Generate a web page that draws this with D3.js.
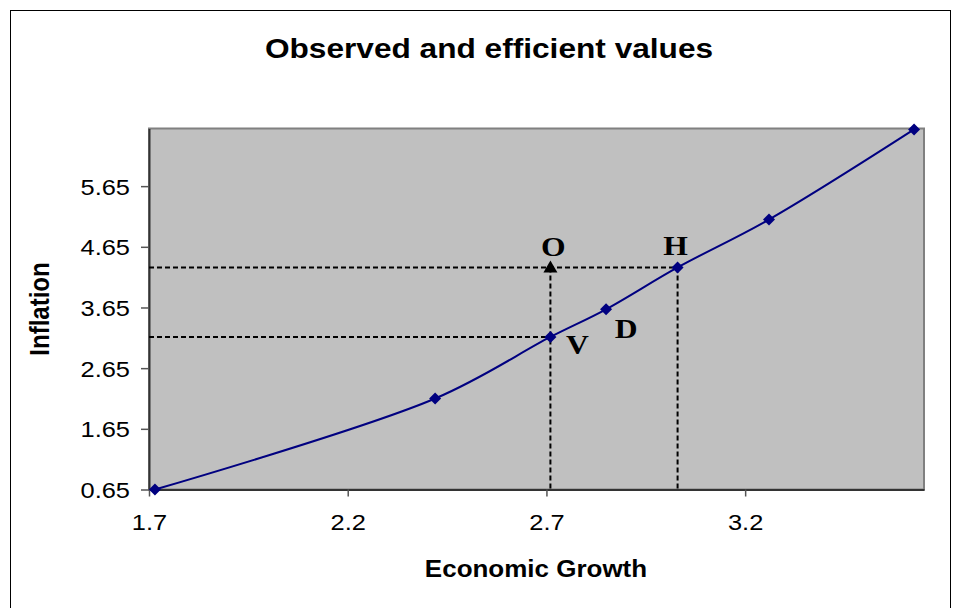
<!DOCTYPE html>
<html><head><meta charset="utf-8">
<script src="https://cdn.jsdelivr.net/npm/d3@7"></script>
<style>body{margin:0;background:#fff}svg{display:block}</style>
</head><body>
<script>
const growth = [1.715, 2.42, 2.71, 2.85, 3.03, 3.26, 3.625];
const inflation = [0.65, 2.15, 3.165, 3.62, 4.31, 5.10, 6.585];
const xTicks = [1.7, 2.2, 2.7, 3.2];
const yTicks = [0.65, 1.65, 2.65, 3.65, 4.65, 5.65];
const pointLabels = ["V", "D", "H"];
const labelIndex = [2, 3, 4];
const observed = {label: "O", growth: 2.71, inflation: 4.31};

const W = 961, H = 608, SX = 1.13;
const svg = d3.select("body").append("svg").attr("width", W).attr("height", H);
svg.append("rect").attr("x", 10.5).attr("y", 10.5).attr("width", 940).attr("height", 640)
  .attr("fill", "#fff").attr("stroke", "#000").attr("stroke-width", 1);

const L = 149, R = 924, T = 128.5, B = 489.5;
const x = d3.scaleLinear().domain([1.7, 3.65]).range([L, R]);
const y = d3.scaleLinear().domain([0.65, 6.6]).range([B, T]);

svg.append("rect").attr("x", L).attr("y", T).attr("width", R - L).attr("height", B - T)
  .attr("fill", "#c0c0c0").attr("stroke", "#808080").attr("stroke-width", 2);

const sans = "Liberation Sans, Arial, sans-serif";
const serif = "Liberation Serif, Times New Roman, serif";

// axes
const xAxis = svg.append("g").attr("transform", `translate(0,${B})`)
  .call(d3.axisBottom(x).tickValues(xTicks).tickFormat(d3.format(".1f")).tickSizeInner(7).tickSizeOuter(0).tickPadding(18));
const yAxis = svg.append("g").attr("transform", `translate(${L},0)`)
  .call(d3.axisLeft(y).tickValues(yTicks).tickFormat(d3.format(".2f")).tickSizeInner(8).tickSizeOuter(0).tickPadding(11));
[xAxis, yAxis].forEach(a => {
  a.select(".domain").attr("stroke", "#333").attr("stroke-width", 2);
  a.selectAll(".tick line").attr("stroke", "#555").attr("stroke-width", 1.5);
  a.selectAll("text").attr("font-family", sans).attr("font-size", 22.5).attr("fill", "#000");
});
xAxis.selectAll(".tick text").each(function() {
  const t = d3.select(this); const yy = +t.attr("y");
  t.attr("transform", `translate(0,${yy}) scale(${SX},1)`).attr("y", 0);
});
yAxis.selectAll(".tick text").each(function() {
  const t = d3.select(this); const xx = +t.attr("x");
  t.attr("transform", `translate(${xx},0) scale(${SX},1)`).attr("x", 0).attr("dy", "0.36em");
});

const iV = 2, iH = 4;
const dash = "5,3";
const g = svg.append("g").attr("stroke", "#000").attr("stroke-width", 2).attr("stroke-dasharray", dash);
g.append("line").attr("x1", L).attr("x2", x(growth[iH])).attr("y1", y(inflation[iH])).attr("y2", y(inflation[iH]));
g.append("line").attr("x1", L).attr("x2", x(growth[iV])).attr("y1", y(inflation[iV])).attr("y2", y(inflation[iV]));
g.append("line").attr("x1", x(observed.growth)).attr("x2", x(observed.growth)).attr("y1", y(observed.inflation)).attr("y2", B);
g.append("line").attr("x1", x(growth[iH])).attr("x2", x(growth[iH])).attr("y1", y(inflation[iH])).attr("y2", B);

const pts = growth.map((d, i) => [x(d), y(inflation[i])]);
svg.append("path").attr("d", d3.line().curve(d3.curveCatmullRom.alpha(0.5))(pts))
  .attr("fill", "none").attr("stroke", "#000080").attr("stroke-width", 2);
svg.selectAll(".mk").data(pts).enter().append("path")
  .attr("d", d3.symbol().type(d3.symbolSquare).size(72)())
  .attr("transform", d => `translate(${d[0]},${d[1]}) rotate(45)`)
  .attr("fill", "#000080");

svg.append("path").attr("d", "M0,-7 L7,5 L-7,5 Z")
  .attr("transform", `translate(${x(observed.growth)},${y(observed.inflation)})`).attr("fill", "#000");

function txt(t, px, py, size, fam, rot) {
  return svg.append("text")
    .attr("transform", `translate(${px},${py})` + (rot ? ` rotate(${rot}) scale(1,${SX})` : ` scale(${SX},1)`))
    .attr("text-anchor", "middle").attr("font-family", fam).attr("font-weight", "bold")
    .attr("font-size", size).attr("fill", "#000").text(t);
}
const lab = [
  {t: observed.label, x: x(observed.growth) + 3, y: y(observed.inflation) - 11},
  {t: pointLabels[0], x: x(growth[labelIndex[0]]) + 27, y: y(inflation[labelIndex[0]]) + 17},
  {t: pointLabels[1], x: x(growth[labelIndex[1]]) + 20, y: y(inflation[labelIndex[1]]) + 29},
  {t: pointLabels[2], x: x(growth[labelIndex[2]]) - 2, y: y(inflation[labelIndex[2]]) - 12}
];
lab.forEach(d => txt(d.t, d.x, d.y, 28, serif));

txt("Observed and efficient values", 489, 58, 28, sans);
txt("Economic Growth", 536, 577, 23, sans);
txt("Inflation", 49, 309, 24, sans, -90);
</script>
</body></html>
